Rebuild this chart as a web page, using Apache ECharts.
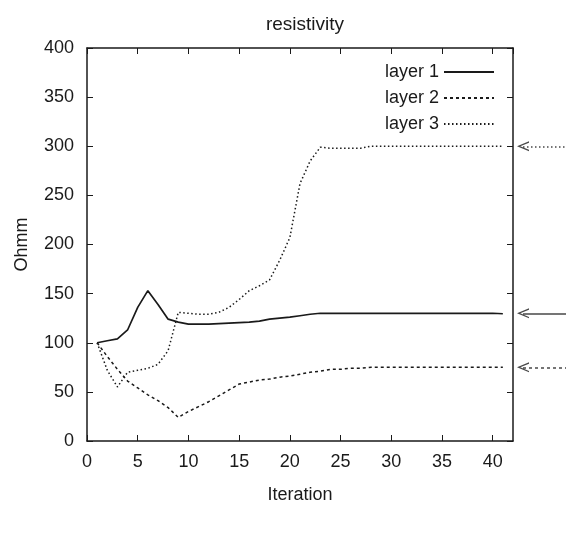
<!DOCTYPE html>
<html>
<head>
<meta charset="utf-8">
<script src="https://cdn.jsdelivr.net/npm/echarts@6/dist/echarts.min.js"></script>
<style>
html,body{margin:0;padding:0;background:#fff;}
#c{width:574px;height:537px;}
</style>
</head>
<body>
<div id="c"></div>
<script>
var iterations = [1,2,3,4,5,6,7,8,9,10,11,12,13,14,15,16,17,18,19,20,21,22,23,24,25,26,27,28,29,30,31,32,33,34,35,36,37,38,39,40,41];
var layer1 = [100,102,104,113,136,153,139,124,121,119,119,119,119.5,120,120.5,121,122,124,125,126,127.5,129,130,130,130,130,130,130,130,130,130,130,130,130,130,130,130,130,130,130,129.5];
var layer2 = [100,86,73,61,54,47,41,34,24,30,35,40,46,52,58,60,62,63,65,66,68,70,71,73,73,74,74,75,75,75,75,75,75,75,75,75,75,75,75,75,75];
var layer3 = [100,72,55,70,72,74,78,92,131,130,129,129,131,136,144,153,158,164,184,207,262,285,299,298,298,298,298,300,300,300,300,300,300,300,300,300,300,300,300,300,300];
var trueValues = [130, 75, 300];
var seriesNames = ['layer 1','layer 2','layer 3'];

function zip(xs, ys){ return xs.map(function(x,i){ return [x, ys[i]]; }); }

var font = 'Liberation Sans, Arial, sans-serif';
var ink = '#1a1a1a';
var styles = [
  {type:'solid', width:1.7},
  {type:[3,3], width:1.5},
  {type:[1.5,2.5], width:1.5}
];
var arrowPath = 'path://M5,0 L10,11 L8.6,11 L5,3 L1.4,11 L0,11 Z';

var chart = echarts.init(document.getElementById('c'), null, {renderer:'canvas'});

var series = [layer1, layer2, layer3].map(function(vals, i){
  return {
    name: seriesNames[i], type:'line', xAxisIndex:0, yAxisIndex:0,
    data: zip(iterations, vals), symbol:'none', smooth:false,
    lineStyle:{color:ink, width:styles[i].width, type:styles[i].type},
    itemStyle:{color:ink}
  };
});
trueValues.forEach(function(v, i){
  series.push({
    type:'line', xAxisIndex:2, yAxisIndex:2, data:[], symbol:'none', silent:true,
    markLine:{
      silent:true, symbol:[arrowPath,'none'], symbolSize:[10,12],
      label:{show:false},
      lineStyle:{color:ink, width:styles[i].width, type:styles[i].type, opacity:0.8},
      data:[[{coord:[0,v]},{coord:[1,v]}]]
    }
  });
});

chart.setOption({
  animation:false,
  backgroundColor:'#fff',
  title:{text:'resistivity', left:300, textAlign:'center', top:10,
    textStyle:{fontFamily:font, fontSize:19, fontWeight:'normal', color:ink}},
  legend:{
    data:seriesNames,
    orient:'vertical', right:74, top:58, align:'right', itemGap:8,
    itemWidth:50, itemHeight:14,
    itemStyle:{opacity:0},
    textStyle:{fontFamily:font, fontSize:18, color:ink}
  },
  grid:[
    {left:87, right:61, top:48, bottom:96},
    {left:523, width:43, top:48, bottom:96}
  ],
  xAxis:[
    {type:'value', gridIndex:0, min:0, max:42, interval:5,
     name:'Iteration', nameLocation:'middle', nameGap:45,
     nameTextStyle:{fontFamily:font, fontSize:18, color:ink},
     axisLine:{onZero:false, lineStyle:{color:ink, width:1.5}},
     axisTick:{inside:true, length:6, lineStyle:{color:ink}},
     axisLabel:{fontFamily:font, fontSize:18, color:ink, margin:12, showMaxLabel:false},
     splitLine:{show:false}},
    {type:'value', gridIndex:0, position:'top', min:0, max:42, interval:5,
     axisLine:{onZero:false, lineStyle:{color:ink, width:1.5}},
     axisTick:{inside:true, length:6, lineStyle:{color:ink}},
     axisLabel:{show:false}, splitLine:{show:false}},
    {type:'value', gridIndex:1, min:0, max:1, show:false}
  ],
  yAxis:[
    {type:'value', gridIndex:0, min:0, max:400, interval:50,
     name:'Ohmm', nameLocation:'middle', nameGap:56, nameRotate:90,
     nameTextStyle:{fontFamily:font, fontSize:18, color:ink},
     axisLine:{show:true, onZero:false, lineStyle:{color:ink, width:1.5}},
     axisTick:{show:true, inside:true, length:6, lineStyle:{color:ink}},
     axisLabel:{fontFamily:font, fontSize:18, color:ink, margin:13},
     splitLine:{show:false}},
    {type:'value', gridIndex:0, position:'right', min:0, max:400, interval:50,
     axisLine:{show:true, onZero:false, lineStyle:{color:ink, width:1.5}},
     axisTick:{show:true, inside:true, length:6, lineStyle:{color:ink}},
     axisLabel:{show:false}, splitLine:{show:false}},
    {type:'value', gridIndex:1, min:0, max:400, show:false}
  ],
  series: series
});
</script>
</body>
</html>
